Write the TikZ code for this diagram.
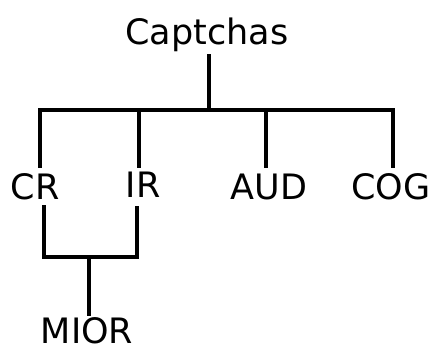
\documentclass[tikz,border=0pt]{standalone}
\usepackage{fontspec}
\setmainfont{DejaVu Sans}
\begin{document}
\begin{tikzpicture}[x=1pt,y=-1pt,
  lbl/.style={anchor=base,inner sep=0pt,font=\fontsize{35}{38}\selectfont},
  conn/.style={line width=4pt,line cap=rect,line join=miter}]
\useasboundingbox (0,0) rectangle (433,350);
% labels
\node[lbl] (root) at (207,45) {Captchas};
\node[lbl] (cr) at (35,199) {CR};
\node[lbl] (ir) at (143,197) {IR};
\node[lbl] (aud) at (269,199) {AUD};
\node[lbl] (cog) at (391,199) {COG};
\node[lbl] (mior) at (87,343) {MIOR};
% junction coordinates
\coordinate (rootb) at (208.5,56);
\coordinate (barm) at (208.5,110);
\coordinate (barl) at (40,110);
\coordinate (bar2) at (139,110);
\coordinate (bar3) at (266,110);
\coordinate (barr) at (393,110);
\coordinate (crt) at (40,166);
\coordinate (irt) at (139,166);
\coordinate (audt) at (266,166);
\coordinate (cogt) at (393,166);
\coordinate (crb) at (44,207);
\coordinate (irb) at (137,208);
\coordinate (jl) at (44,257);
\coordinate (jr) at (137,257);
\coordinate (jm) at (89,257);
\coordinate (miort) at (89,314);
% connectors
\draw[conn] (rootb) -- (barm);
\draw[conn] (crt) -- (barl) -- (barr) -- (cogt);
\draw[conn] (bar2) -- (irt);
\draw[conn] (bar3) -- (audt);
\draw[conn] (crb) -- (jl) -- (jr) -- (irb);
\draw[conn] (jm) -- (miort);
\end{tikzpicture}
\end{document}
